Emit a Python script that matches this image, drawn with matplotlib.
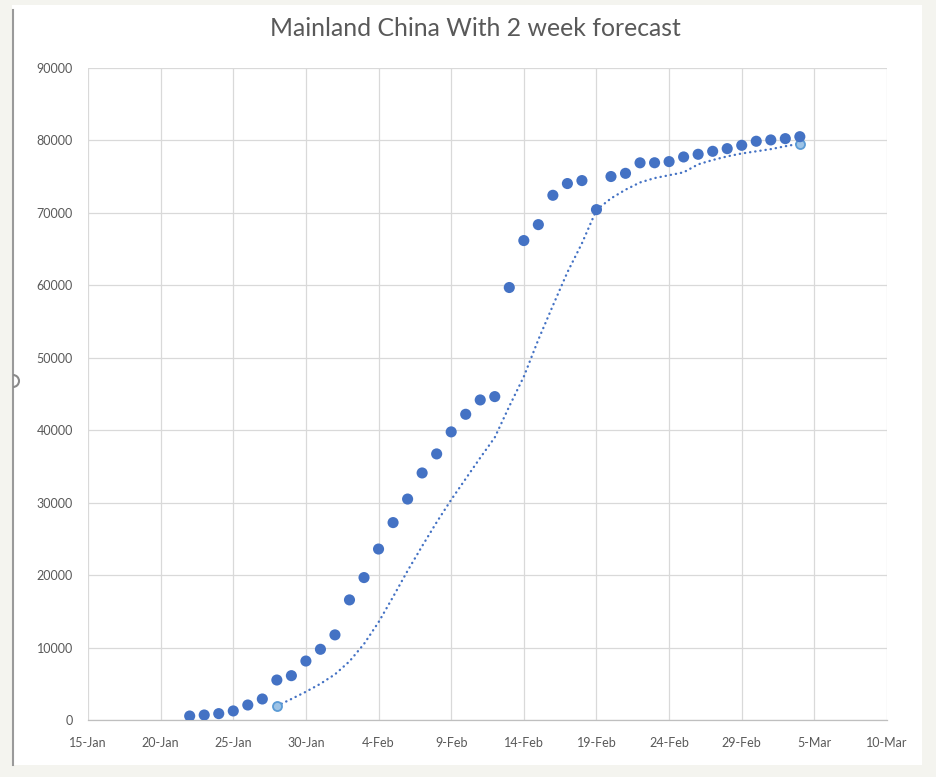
import matplotlib
matplotlib.use("Agg")
import matplotlib.pyplot as plt
import matplotlib.dates as mdates
from matplotlib.patches import Rectangle, Arc
from matplotlib.lines import Line2D
import pandas as pd

# Confirmed cases, Mainland China
case_dates = pd.date_range("2020-01-22", "2020-03-04", freq="D")
cases = [550, 690, 880, 1250, 2070, 2900, 5520, 6120, 8140, 9760,
         11750, 16580, 19660, 23600, 27250, 30500, 34100, 36730, 39770, 42200,
         44180, 44640, 59700, 66180, 68380, 72430, 74050, 74460, 70450, 75020,
         75460, 76910, 76920, 77080, 77720, 78090, 78500, 78870, 79330,
         79890, 80070, 80250, 80520]

# Forecast series
forecast_dates = pd.date_range("2020-01-28", "2020-03-04", freq="D")
forecast = [1930, 2900, 3900, 5000,
            6300, 8100, 10500, 13500, 17000, 20600, 24000, 27300, 30400, 33300,
            36200, 39000, 43300, 47400, 52500, 57200, 61800, 65800, 70400, 72000,
            73200, 74200, 74800, 75200, 75600, 76700, 77300, 77800, 78200,
            78500, 78800, 79200, 79560]

title = "Mainland China With 2 week forecast"
x_start, x_end = pd.Timestamp("2020-01-15"), pd.Timestamp("2020-03-10")
y_ticks = list(range(0, 90001, 10000))

BLUE = "#4472C4"
GRID = "#d9d9d9"
TEXT = "#595959"

W, H = 936, 777
fig = plt.figure(figsize=(W / 100, H / 100), dpi=100, facecolor="#f4f4ef")

# white chart area and its left border
fig.patches.append(Rectangle((12 / W, 1 - 765 / H), (922 - 12) / W, (765 - 5) / H,
                             transform=fig.transFigure, facecolor="white",
                             edgecolor="none", zorder=-2))
fig.lines.append(Line2D([12.5 / W, 12.5 / W], [1 - 10 / H, 1 - 765 / H],
                        transform=fig.transFigure, color="#9a9a9a", lw=1.5,
                        zorder=-1))
fig.patches.append(Arc((13 / W, 1 - 381 / H), 12 / W, 12 / H, theta1=-90, theta2=90,
                       transform=fig.transFigure, color="#8a8a8a", lw=1.5,
                       zorder=-1))

ax = fig.add_axes([88 / W, 1 - 720 / H, (887 - 88) / W, (720 - 68) / H])
ax.set_zorder(1)
ax.set_facecolor("white")

ax.plot(forecast_dates, forecast, color=BLUE, lw=1.7,
        linestyle=(0, (0.1, 2.1)), dash_capstyle="round", zorder=3,
        marker="o", markevery=[0, len(forecast) - 1], markersize=6.5,
        markerfacecolor="#9dc3e6", markeredgecolor="#5b9bd5", markeredgewidth=1.3)
ax.scatter(case_dates, cases, s=64, color=BLUE, edgecolors="none", zorder=4)

ax.set_xlim(x_start, x_end)
ax.set_ylim(0, 90000)
ax.set_yticks(y_ticks)
ax.set_yticklabels([str(v) for v in y_ticks])
ax.set_xticks(pd.date_range(x_start, x_end, freq="5D"))
ax.xaxis.set_major_formatter(mdates.DateFormatter("%-d-%b"))

ax.grid(True, color=GRID, lw=0.9)
ax.set_axisbelow(True)
for side in ["left", "right", "top"]:
    ax.spines[side].set_visible(False)
ax.spines["bottom"].set_color("#bfbfbf")
ax.spines["bottom"].set_linewidth(0.9)

ax.tick_params(axis="both", length=0, labelcolor=TEXT, labelsize=9)
ax.tick_params(axis="y", pad=11)
ax.tick_params(axis="x", pad=12)
for lab in ax.get_xticklabels() + ax.get_yticklabels():
    lab.set_fontfamily("Lato")

fig.text(475.5 / W, 1 - 28 / H, title, ha="center", va="center",
         fontsize=17.8, color=TEXT, family="Lato")

fig.savefig("out.png", dpi=100, facecolor=fig.get_facecolor())
